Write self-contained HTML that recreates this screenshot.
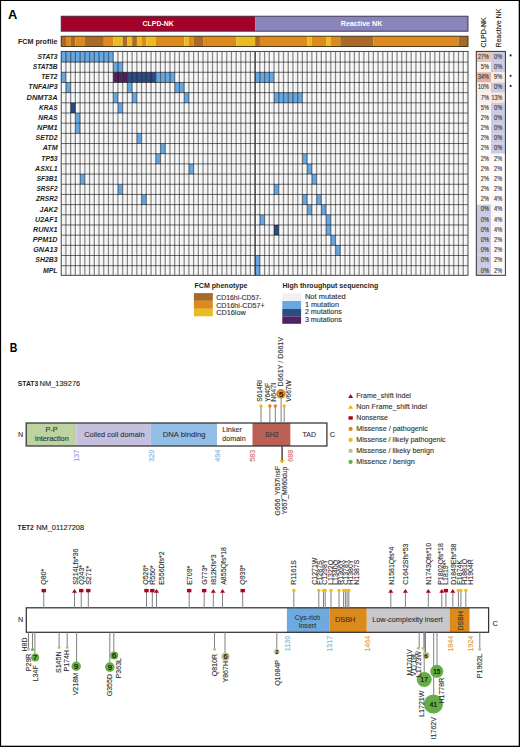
<!DOCTYPE html><html><head><meta charset="utf-8"><style>html,body{margin:0;padding:0;background:#fff;}svg{display:block;}</style></head><body>
<svg width="520" height="747" viewBox="0 0 520 747" font-family='"Liberation Sans", sans-serif'>
<rect x="0.00" y="0.00" width="520.00" height="747.00" fill="#ffffff"/>
<text x="8.10" y="18.60" font-size="13.4" fill="#000" font-weight="bold" textLength="9.30" lengthAdjust="spacingAndGlyphs">A</text>
<rect x="61.20" y="16.20" width="193.94" height="15.00" fill="#a3002a"/>
<rect x="255.14" y="16.20" width="212.86" height="15.00" fill="#8a84bc"/>
<rect x="61.20" y="16.20" width="406.80" height="15.00" fill="none" stroke="#3a3040" stroke-width="0.9"/>
<text x="158.17" y="26.00" font-size="6.8" fill="#fff" font-weight="bold" text-anchor="middle" textLength="31.20" lengthAdjust="spacingAndGlyphs">CLPD-NK</text>
<text x="361.57" y="26.00" font-size="6.8" fill="#fff" font-weight="bold" text-anchor="middle" textLength="41.50" lengthAdjust="spacingAndGlyphs">Reactive NK</text>
<rect x="61.20" y="36.20" width="4.78" height="10.30" fill="#a86a26"/>
<rect x="65.93" y="36.20" width="4.78" height="10.30" fill="#dd8a1a"/>
<rect x="70.66" y="36.20" width="4.78" height="10.30" fill="#a86a26"/>
<rect x="75.39" y="36.20" width="9.51" height="10.30" fill="#dd8a1a"/>
<rect x="84.85" y="36.20" width="18.97" height="10.30" fill="#a86a26"/>
<rect x="103.77" y="36.20" width="9.51" height="10.30" fill="#dd8a1a"/>
<rect x="113.23" y="36.20" width="9.51" height="10.30" fill="#e9bd1f"/>
<rect x="122.69" y="36.20" width="4.78" height="10.30" fill="#a86a26"/>
<rect x="127.42" y="36.20" width="4.78" height="10.30" fill="#e9bd1f"/>
<rect x="132.15" y="36.20" width="4.78" height="10.30" fill="#a86a26"/>
<rect x="136.88" y="36.20" width="4.78" height="10.30" fill="#e9bd1f"/>
<rect x="141.61" y="36.20" width="4.78" height="10.30" fill="#dd8a1a"/>
<rect x="146.34" y="36.20" width="9.51" height="10.30" fill="#e9bd1f"/>
<rect x="155.80" y="36.20" width="28.43" height="10.30" fill="#dd8a1a"/>
<rect x="184.19" y="36.20" width="4.78" height="10.30" fill="#e9bd1f"/>
<rect x="188.92" y="36.20" width="4.78" height="10.30" fill="#dd8a1a"/>
<rect x="193.65" y="36.20" width="9.51" height="10.30" fill="#a86a26"/>
<rect x="203.11" y="36.20" width="33.16" height="10.30" fill="#dd8a1a"/>
<rect x="236.22" y="36.20" width="18.97" height="10.30" fill="#e9bd1f"/>
<rect x="255.14" y="36.20" width="4.78" height="10.30" fill="#a86a26"/>
<rect x="259.87" y="36.20" width="47.35" height="10.30" fill="#dd8a1a"/>
<rect x="307.17" y="36.20" width="4.78" height="10.30" fill="#e9bd1f"/>
<rect x="311.90" y="36.20" width="14.24" height="10.30" fill="#dd8a1a"/>
<rect x="326.09" y="36.20" width="4.78" height="10.30" fill="#e9bd1f"/>
<rect x="330.82" y="36.20" width="9.51" height="10.30" fill="#dd8a1a"/>
<rect x="340.28" y="36.20" width="33.16" height="10.30" fill="#a86a26"/>
<rect x="373.40" y="36.20" width="85.19" height="10.30" fill="#dd8a1a"/>
<rect x="458.54" y="36.20" width="9.51" height="10.30" fill="#a86a26"/>
<rect x="61.20" y="36.20" width="406.80" height="10.30" fill="none" stroke="#3a2a10" stroke-width="0.9"/>
<text x="57.40" y="43.80" font-size="7.3" fill="#231f20" font-weight="bold" text-anchor="end" textLength="39.50" lengthAdjust="spacingAndGlyphs">FCM profile</text>
<rect x="61.20" y="51.40" width="406.80" height="223.90" fill="#f4f4f4"/>
<rect x="61.80" y="51.40" width="1.30" height="223.90" fill="#fdfdfd"/>
<rect x="66.53" y="51.40" width="1.30" height="223.90" fill="#fdfdfd"/>
<rect x="71.26" y="51.40" width="1.30" height="223.90" fill="#fdfdfd"/>
<rect x="75.99" y="51.40" width="1.30" height="223.90" fill="#fdfdfd"/>
<rect x="80.72" y="51.40" width="1.30" height="223.90" fill="#fdfdfd"/>
<rect x="85.45" y="51.40" width="1.30" height="223.90" fill="#fdfdfd"/>
<rect x="90.18" y="51.40" width="1.30" height="223.90" fill="#fdfdfd"/>
<rect x="94.91" y="51.40" width="1.30" height="223.90" fill="#fdfdfd"/>
<rect x="99.64" y="51.40" width="1.30" height="223.90" fill="#fdfdfd"/>
<rect x="104.37" y="51.40" width="1.30" height="223.90" fill="#fdfdfd"/>
<rect x="109.10" y="51.40" width="1.30" height="223.90" fill="#fdfdfd"/>
<rect x="113.83" y="51.40" width="1.30" height="223.90" fill="#fdfdfd"/>
<rect x="118.56" y="51.40" width="1.30" height="223.90" fill="#fdfdfd"/>
<rect x="123.29" y="51.40" width="1.30" height="223.90" fill="#fdfdfd"/>
<rect x="128.02" y="51.40" width="1.30" height="223.90" fill="#fdfdfd"/>
<rect x="132.75" y="51.40" width="1.30" height="223.90" fill="#fdfdfd"/>
<rect x="137.48" y="51.40" width="1.30" height="223.90" fill="#fdfdfd"/>
<rect x="142.21" y="51.40" width="1.30" height="223.90" fill="#fdfdfd"/>
<rect x="146.94" y="51.40" width="1.30" height="223.90" fill="#fdfdfd"/>
<rect x="151.67" y="51.40" width="1.30" height="223.90" fill="#fdfdfd"/>
<rect x="156.40" y="51.40" width="1.30" height="223.90" fill="#fdfdfd"/>
<rect x="161.13" y="51.40" width="1.30" height="223.90" fill="#fdfdfd"/>
<rect x="165.87" y="51.40" width="1.30" height="223.90" fill="#fdfdfd"/>
<rect x="170.60" y="51.40" width="1.30" height="223.90" fill="#fdfdfd"/>
<rect x="175.33" y="51.40" width="1.30" height="223.90" fill="#fdfdfd"/>
<rect x="180.06" y="51.40" width="1.30" height="223.90" fill="#fdfdfd"/>
<rect x="184.79" y="51.40" width="1.30" height="223.90" fill="#fdfdfd"/>
<rect x="189.52" y="51.40" width="1.30" height="223.90" fill="#fdfdfd"/>
<rect x="194.25" y="51.40" width="1.30" height="223.90" fill="#fdfdfd"/>
<rect x="198.98" y="51.40" width="1.30" height="223.90" fill="#fdfdfd"/>
<rect x="203.71" y="51.40" width="1.30" height="223.90" fill="#fdfdfd"/>
<rect x="208.44" y="51.40" width="1.30" height="223.90" fill="#fdfdfd"/>
<rect x="213.17" y="51.40" width="1.30" height="223.90" fill="#fdfdfd"/>
<rect x="217.90" y="51.40" width="1.30" height="223.90" fill="#fdfdfd"/>
<rect x="222.63" y="51.40" width="1.30" height="223.90" fill="#fdfdfd"/>
<rect x="227.36" y="51.40" width="1.30" height="223.90" fill="#fdfdfd"/>
<rect x="232.09" y="51.40" width="1.30" height="223.90" fill="#fdfdfd"/>
<rect x="236.82" y="51.40" width="1.30" height="223.90" fill="#fdfdfd"/>
<rect x="241.55" y="51.40" width="1.30" height="223.90" fill="#fdfdfd"/>
<rect x="246.28" y="51.40" width="1.30" height="223.90" fill="#fdfdfd"/>
<rect x="251.01" y="51.40" width="1.30" height="223.90" fill="#fdfdfd"/>
<rect x="255.74" y="51.40" width="1.30" height="223.90" fill="#fdfdfd"/>
<rect x="260.47" y="51.40" width="1.30" height="223.90" fill="#fdfdfd"/>
<rect x="265.20" y="51.40" width="1.30" height="223.90" fill="#fdfdfd"/>
<rect x="269.93" y="51.40" width="1.30" height="223.90" fill="#fdfdfd"/>
<rect x="274.66" y="51.40" width="1.30" height="223.90" fill="#fdfdfd"/>
<rect x="279.39" y="51.40" width="1.30" height="223.90" fill="#fdfdfd"/>
<rect x="284.12" y="51.40" width="1.30" height="223.90" fill="#fdfdfd"/>
<rect x="288.85" y="51.40" width="1.30" height="223.90" fill="#fdfdfd"/>
<rect x="293.58" y="51.40" width="1.30" height="223.90" fill="#fdfdfd"/>
<rect x="298.31" y="51.40" width="1.30" height="223.90" fill="#fdfdfd"/>
<rect x="303.04" y="51.40" width="1.30" height="223.90" fill="#fdfdfd"/>
<rect x="307.77" y="51.40" width="1.30" height="223.90" fill="#fdfdfd"/>
<rect x="312.50" y="51.40" width="1.30" height="223.90" fill="#fdfdfd"/>
<rect x="317.23" y="51.40" width="1.30" height="223.90" fill="#fdfdfd"/>
<rect x="321.96" y="51.40" width="1.30" height="223.90" fill="#fdfdfd"/>
<rect x="326.69" y="51.40" width="1.30" height="223.90" fill="#fdfdfd"/>
<rect x="331.42" y="51.40" width="1.30" height="223.90" fill="#fdfdfd"/>
<rect x="336.15" y="51.40" width="1.30" height="223.90" fill="#fdfdfd"/>
<rect x="340.88" y="51.40" width="1.30" height="223.90" fill="#fdfdfd"/>
<rect x="345.61" y="51.40" width="1.30" height="223.90" fill="#fdfdfd"/>
<rect x="350.34" y="51.40" width="1.30" height="223.90" fill="#fdfdfd"/>
<rect x="355.07" y="51.40" width="1.30" height="223.90" fill="#fdfdfd"/>
<rect x="359.80" y="51.40" width="1.30" height="223.90" fill="#fdfdfd"/>
<rect x="364.53" y="51.40" width="1.30" height="223.90" fill="#fdfdfd"/>
<rect x="369.27" y="51.40" width="1.30" height="223.90" fill="#fdfdfd"/>
<rect x="374.00" y="51.40" width="1.30" height="223.90" fill="#fdfdfd"/>
<rect x="378.73" y="51.40" width="1.30" height="223.90" fill="#fdfdfd"/>
<rect x="383.46" y="51.40" width="1.30" height="223.90" fill="#fdfdfd"/>
<rect x="388.19" y="51.40" width="1.30" height="223.90" fill="#fdfdfd"/>
<rect x="392.92" y="51.40" width="1.30" height="223.90" fill="#fdfdfd"/>
<rect x="397.65" y="51.40" width="1.30" height="223.90" fill="#fdfdfd"/>
<rect x="402.38" y="51.40" width="1.30" height="223.90" fill="#fdfdfd"/>
<rect x="407.11" y="51.40" width="1.30" height="223.90" fill="#fdfdfd"/>
<rect x="411.84" y="51.40" width="1.30" height="223.90" fill="#fdfdfd"/>
<rect x="416.57" y="51.40" width="1.30" height="223.90" fill="#fdfdfd"/>
<rect x="421.30" y="51.40" width="1.30" height="223.90" fill="#fdfdfd"/>
<rect x="426.03" y="51.40" width="1.30" height="223.90" fill="#fdfdfd"/>
<rect x="430.76" y="51.40" width="1.30" height="223.90" fill="#fdfdfd"/>
<rect x="435.49" y="51.40" width="1.30" height="223.90" fill="#fdfdfd"/>
<rect x="440.22" y="51.40" width="1.30" height="223.90" fill="#fdfdfd"/>
<rect x="444.95" y="51.40" width="1.30" height="223.90" fill="#fdfdfd"/>
<rect x="449.68" y="51.40" width="1.30" height="223.90" fill="#fdfdfd"/>
<rect x="454.41" y="51.40" width="1.30" height="223.90" fill="#fdfdfd"/>
<rect x="459.14" y="51.40" width="1.30" height="223.90" fill="#fdfdfd"/>
<rect x="463.87" y="51.40" width="1.30" height="223.90" fill="#fdfdfd"/>
<rect x="61.20" y="51.40" width="4.73" height="10.70" fill="#66a8e2"/>
<rect x="65.93" y="51.40" width="4.73" height="10.70" fill="#66a8e2"/>
<rect x="70.66" y="51.40" width="4.73" height="10.70" fill="#66a8e2"/>
<rect x="75.39" y="51.40" width="4.73" height="10.70" fill="#66a8e2"/>
<rect x="80.12" y="51.40" width="4.73" height="10.70" fill="#66a8e2"/>
<rect x="84.85" y="51.40" width="4.73" height="10.70" fill="#66a8e2"/>
<rect x="89.58" y="51.40" width="4.73" height="10.70" fill="#66a8e2"/>
<rect x="94.31" y="51.40" width="4.73" height="10.70" fill="#66a8e2"/>
<rect x="99.04" y="51.40" width="4.73" height="10.70" fill="#66a8e2"/>
<rect x="103.77" y="51.40" width="4.73" height="10.70" fill="#66a8e2"/>
<rect x="108.50" y="51.40" width="4.73" height="10.70" fill="#66a8e2"/>
<rect x="113.23" y="62.10" width="4.73" height="10.18" fill="#66a8e2"/>
<rect x="117.96" y="62.10" width="4.73" height="10.18" fill="#66a8e2"/>
<rect x="61.20" y="72.28" width="4.73" height="10.18" fill="#66a8e2"/>
<rect x="113.23" y="72.28" width="4.73" height="10.18" fill="#502262"/>
<rect x="117.96" y="72.28" width="4.73" height="10.18" fill="#502262"/>
<rect x="122.69" y="72.28" width="4.73" height="10.18" fill="#502262"/>
<rect x="127.42" y="72.28" width="4.73" height="10.18" fill="#2c4c86"/>
<rect x="132.15" y="72.28" width="4.73" height="10.18" fill="#2c4c86"/>
<rect x="136.88" y="72.28" width="4.73" height="10.18" fill="#2c4c86"/>
<rect x="141.61" y="72.28" width="4.73" height="10.18" fill="#2c4c86"/>
<rect x="146.34" y="72.28" width="4.73" height="10.18" fill="#2c4c86"/>
<rect x="151.07" y="72.28" width="4.73" height="10.18" fill="#2c4c86"/>
<rect x="155.80" y="72.28" width="4.73" height="10.18" fill="#66a8e2"/>
<rect x="160.53" y="72.28" width="4.73" height="10.18" fill="#66a8e2"/>
<rect x="165.27" y="72.28" width="4.73" height="10.18" fill="#66a8e2"/>
<rect x="170.00" y="72.28" width="4.73" height="10.18" fill="#66a8e2"/>
<rect x="255.14" y="72.28" width="4.73" height="10.18" fill="#66a8e2"/>
<rect x="259.87" y="72.28" width="4.73" height="10.18" fill="#66a8e2"/>
<rect x="264.60" y="72.28" width="4.73" height="10.18" fill="#66a8e2"/>
<rect x="269.33" y="72.28" width="4.73" height="10.18" fill="#66a8e2"/>
<rect x="65.93" y="82.46" width="4.73" height="10.18" fill="#66a8e2"/>
<rect x="127.42" y="82.46" width="4.73" height="10.18" fill="#66a8e2"/>
<rect x="174.73" y="82.46" width="4.73" height="10.18" fill="#66a8e2"/>
<rect x="179.46" y="82.46" width="4.73" height="10.18" fill="#66a8e2"/>
<rect x="113.23" y="92.64" width="4.73" height="10.18" fill="#66a8e2"/>
<rect x="132.15" y="92.64" width="4.73" height="10.18" fill="#66a8e2"/>
<rect x="184.19" y="92.64" width="4.73" height="10.18" fill="#66a8e2"/>
<rect x="274.06" y="92.64" width="4.73" height="10.18" fill="#66a8e2"/>
<rect x="278.79" y="92.64" width="4.73" height="10.18" fill="#66a8e2"/>
<rect x="283.52" y="92.64" width="4.73" height="10.18" fill="#66a8e2"/>
<rect x="288.25" y="92.64" width="4.73" height="10.18" fill="#66a8e2"/>
<rect x="292.98" y="92.64" width="4.73" height="10.18" fill="#66a8e2"/>
<rect x="297.71" y="92.64" width="4.73" height="10.18" fill="#66a8e2"/>
<rect x="70.66" y="102.82" width="4.73" height="10.18" fill="#2c4c86"/>
<rect x="117.96" y="102.82" width="4.73" height="10.18" fill="#66a8e2"/>
<rect x="75.39" y="113.00" width="4.73" height="10.18" fill="#66a8e2"/>
<rect x="75.39" y="123.18" width="4.73" height="10.18" fill="#66a8e2"/>
<rect x="136.88" y="133.36" width="4.73" height="10.18" fill="#66a8e2"/>
<rect x="160.53" y="143.54" width="4.73" height="10.18" fill="#66a8e2"/>
<rect x="155.80" y="153.72" width="4.73" height="10.18" fill="#66a8e2"/>
<rect x="302.44" y="153.72" width="4.73" height="10.18" fill="#66a8e2"/>
<rect x="188.92" y="163.90" width="4.73" height="10.18" fill="#66a8e2"/>
<rect x="307.17" y="163.90" width="4.73" height="10.18" fill="#66a8e2"/>
<rect x="80.12" y="174.08" width="4.73" height="10.18" fill="#66a8e2"/>
<rect x="311.90" y="174.08" width="4.73" height="10.18" fill="#66a8e2"/>
<rect x="117.96" y="184.26" width="4.73" height="10.18" fill="#66a8e2"/>
<rect x="274.06" y="184.26" width="4.73" height="10.18" fill="#66a8e2"/>
<rect x="141.61" y="194.44" width="4.73" height="10.18" fill="#66a8e2"/>
<rect x="302.44" y="194.44" width="4.73" height="10.18" fill="#66a8e2"/>
<rect x="316.63" y="194.44" width="4.73" height="10.18" fill="#66a8e2"/>
<rect x="307.17" y="204.62" width="4.73" height="10.18" fill="#66a8e2"/>
<rect x="321.36" y="204.62" width="4.73" height="10.18" fill="#66a8e2"/>
<rect x="259.87" y="214.80" width="4.73" height="10.18" fill="#66a8e2"/>
<rect x="326.09" y="214.80" width="4.73" height="10.18" fill="#66a8e2"/>
<rect x="274.06" y="224.98" width="4.73" height="10.18" fill="#2c4c86"/>
<rect x="326.09" y="224.98" width="4.73" height="10.18" fill="#66a8e2"/>
<rect x="330.82" y="235.16" width="4.73" height="10.18" fill="#66a8e2"/>
<rect x="335.55" y="245.34" width="4.73" height="10.18" fill="#66a8e2"/>
<rect x="255.14" y="255.52" width="4.73" height="10.18" fill="#66a8e2"/>
<rect x="255.14" y="265.70" width="4.73" height="9.60" fill="#66a8e2"/>
<path d="M65.93 51.40V275.30 M70.66 51.40V275.30 M75.39 51.40V275.30 M80.12 51.40V275.30 M84.85 51.40V275.30 M89.58 51.40V275.30 M94.31 51.40V275.30 M99.04 51.40V275.30 M103.77 51.40V275.30 M108.50 51.40V275.30 M113.23 51.40V275.30 M117.96 51.40V275.30 M122.69 51.40V275.30 M127.42 51.40V275.30 M132.15 51.40V275.30 M136.88 51.40V275.30 M141.61 51.40V275.30 M146.34 51.40V275.30 M151.07 51.40V275.30 M155.80 51.40V275.30 M160.53 51.40V275.30 M165.27 51.40V275.30 M170.00 51.40V275.30 M174.73 51.40V275.30 M179.46 51.40V275.30 M184.19 51.40V275.30 M188.92 51.40V275.30 M193.65 51.40V275.30 M198.38 51.40V275.30 M203.11 51.40V275.30 M207.84 51.40V275.30 M212.57 51.40V275.30 M217.30 51.40V275.30 M222.03 51.40V275.30 M226.76 51.40V275.30 M231.49 51.40V275.30 M236.22 51.40V275.30 M240.95 51.40V275.30 M245.68 51.40V275.30 M250.41 51.40V275.30 M255.14 51.40V275.30 M259.87 51.40V275.30 M264.60 51.40V275.30 M269.33 51.40V275.30 M274.06 51.40V275.30 M278.79 51.40V275.30 M283.52 51.40V275.30 M288.25 51.40V275.30 M292.98 51.40V275.30 M297.71 51.40V275.30 M302.44 51.40V275.30 M307.17 51.40V275.30 M311.90 51.40V275.30 M316.63 51.40V275.30 M321.36 51.40V275.30 M326.09 51.40V275.30 M330.82 51.40V275.30 M335.55 51.40V275.30 M340.28 51.40V275.30 M345.01 51.40V275.30 M349.74 51.40V275.30 M354.47 51.40V275.30 M359.20 51.40V275.30 M363.93 51.40V275.30 M368.67 51.40V275.30 M373.40 51.40V275.30 M378.13 51.40V275.30 M382.86 51.40V275.30 M387.59 51.40V275.30 M392.32 51.40V275.30 M397.05 51.40V275.30 M401.78 51.40V275.30 M406.51 51.40V275.30 M411.24 51.40V275.30 M415.97 51.40V275.30 M420.70 51.40V275.30 M425.43 51.40V275.30 M430.16 51.40V275.30 M434.89 51.40V275.30 M439.62 51.40V275.30 M444.35 51.40V275.30 M449.08 51.40V275.30 M453.81 51.40V275.30 M458.54 51.40V275.30 M463.27 51.40V275.30" stroke="#000" stroke-opacity="0.45" stroke-width="1.25" fill="none"/>
<path d="M61.20 62.10H468.00 M61.20 72.28H468.00 M61.20 82.46H468.00 M61.20 92.64H468.00 M61.20 102.82H468.00 M61.20 113.00H468.00 M61.20 123.18H468.00 M61.20 133.36H468.00 M61.20 143.54H468.00 M61.20 153.72H468.00 M61.20 163.90H468.00 M61.20 174.08H468.00 M61.20 184.26H468.00 M61.20 194.44H468.00 M61.20 204.62H468.00 M61.20 214.80H468.00 M61.20 224.98H468.00 M61.20 235.16H468.00 M61.20 245.34H468.00 M61.20 255.52H468.00 M61.20 265.70H468.00" stroke="#000" stroke-opacity="0.58" stroke-width="1.0" fill="none"/>
<line x1="255.14" y1="51.40" x2="255.14" y2="275.30" stroke="#333" stroke-width="1.1"/>
<rect x="61.20" y="51.40" width="406.80" height="223.90" fill="none" stroke="#333" stroke-width="0.9"/>
<text x="57.60" y="58.84" font-size="6.7" fill="#231f20" font-weight="bold" font-style="italic" text-anchor="end" textLength="20.20" lengthAdjust="spacingAndGlyphs">STAT3</text>
<text x="57.60" y="69.02" font-size="6.7" fill="#231f20" font-weight="bold" font-style="italic" text-anchor="end" textLength="24.90" lengthAdjust="spacingAndGlyphs">STAT5B</text>
<text x="57.60" y="79.19" font-size="6.7" fill="#231f20" font-weight="bold" font-style="italic" text-anchor="end" textLength="16.40" lengthAdjust="spacingAndGlyphs">TET2</text>
<text x="57.60" y="89.37" font-size="6.7" fill="#231f20" font-weight="bold" font-style="italic" text-anchor="end" textLength="29.30" lengthAdjust="spacingAndGlyphs">TNFAIP3</text>
<text x="57.60" y="99.55" font-size="6.7" fill="#231f20" font-weight="bold" font-style="italic" text-anchor="end" textLength="31.10" lengthAdjust="spacingAndGlyphs">DNMT3A</text>
<text x="57.60" y="109.72" font-size="6.7" fill="#231f20" font-weight="bold" font-style="italic" text-anchor="end" textLength="18.60" lengthAdjust="spacingAndGlyphs">KRAS</text>
<text x="57.60" y="119.90" font-size="6.7" fill="#231f20" font-weight="bold" font-style="italic" text-anchor="end" textLength="19.30" lengthAdjust="spacingAndGlyphs">NRAS</text>
<text x="57.60" y="130.08" font-size="6.7" fill="#231f20" font-weight="bold" font-style="italic" text-anchor="end" textLength="20.50" lengthAdjust="spacingAndGlyphs">NPM1</text>
<text x="57.60" y="140.26" font-size="6.7" fill="#231f20" font-weight="bold" font-style="italic" text-anchor="end" textLength="22.00" lengthAdjust="spacingAndGlyphs">SETD2</text>
<text x="57.60" y="150.43" font-size="6.7" fill="#231f20" font-weight="bold" font-style="italic" text-anchor="end" textLength="14.90" lengthAdjust="spacingAndGlyphs">ATM</text>
<text x="57.60" y="160.61" font-size="6.7" fill="#231f20" font-weight="bold" font-style="italic" text-anchor="end" textLength="16.40" lengthAdjust="spacingAndGlyphs">TP53</text>
<text x="57.60" y="170.79" font-size="6.7" fill="#231f20" font-weight="bold" font-style="italic" text-anchor="end" textLength="22.50" lengthAdjust="spacingAndGlyphs">ASXL1</text>
<text x="57.60" y="180.97" font-size="6.7" fill="#231f20" font-weight="bold" font-style="italic" text-anchor="end" textLength="21.20" lengthAdjust="spacingAndGlyphs">SF3B1</text>
<text x="57.60" y="191.14" font-size="6.7" fill="#231f20" font-weight="bold" font-style="italic" text-anchor="end" textLength="21.10" lengthAdjust="spacingAndGlyphs">SRSF2</text>
<text x="57.60" y="201.32" font-size="6.7" fill="#231f20" font-weight="bold" font-style="italic" text-anchor="end" textLength="21.60" lengthAdjust="spacingAndGlyphs">ZRSR2</text>
<text x="57.60" y="211.50" font-size="6.7" fill="#231f20" font-weight="bold" font-style="italic" text-anchor="end" textLength="18.10" lengthAdjust="spacingAndGlyphs">JAK2</text>
<text x="57.60" y="221.68" font-size="6.7" fill="#231f20" font-weight="bold" font-style="italic" text-anchor="end" textLength="22.60" lengthAdjust="spacingAndGlyphs">U2AF1</text>
<text x="57.60" y="231.85" font-size="6.7" fill="#231f20" font-weight="bold" font-style="italic" text-anchor="end" textLength="24.60" lengthAdjust="spacingAndGlyphs">RUNX1</text>
<text x="57.60" y="242.03" font-size="6.7" fill="#231f20" font-weight="bold" font-style="italic" text-anchor="end" textLength="24.90" lengthAdjust="spacingAndGlyphs">PPM1D</text>
<text x="57.60" y="252.21" font-size="6.7" fill="#231f20" font-weight="bold" font-style="italic" text-anchor="end" textLength="24.40" lengthAdjust="spacingAndGlyphs">GNA13</text>
<text x="57.60" y="262.38" font-size="6.7" fill="#231f20" font-weight="bold" font-style="italic" text-anchor="end" textLength="22.30" lengthAdjust="spacingAndGlyphs">SH2B3</text>
<text x="57.60" y="272.56" font-size="6.7" fill="#231f20" font-weight="bold" font-style="italic" text-anchor="end" textLength="14.60" lengthAdjust="spacingAndGlyphs">MPL</text>
<rect x="476.30" y="51.40" width="14.70" height="10.75" fill="#eac6bb"/>
<rect x="491.00" y="51.40" width="14.40" height="10.75" fill="#c8cbe3"/>
<text x="488.90" y="58.79" font-size="6.4" fill="#333" stroke="#333" stroke-width="0.12" text-anchor="end" textLength="10.80" lengthAdjust="spacingAndGlyphs">27%</text>
<text x="502.20" y="58.79" font-size="6.4" fill="#333" stroke="#333" stroke-width="0.12" text-anchor="end" textLength="8.10" lengthAdjust="spacingAndGlyphs">0%</text>
<rect x="476.30" y="62.10" width="14.70" height="10.23" fill="#faf3f1"/>
<rect x="491.00" y="62.10" width="14.40" height="10.23" fill="#c8cbe3"/>
<text x="488.90" y="68.97" font-size="6.4" fill="#333" stroke="#333" stroke-width="0.12" text-anchor="end" textLength="8.10" lengthAdjust="spacingAndGlyphs">5%</text>
<text x="502.20" y="68.97" font-size="6.4" fill="#333" stroke="#333" stroke-width="0.12" text-anchor="end" textLength="8.10" lengthAdjust="spacingAndGlyphs">0%</text>
<rect x="476.30" y="72.28" width="14.70" height="10.23" fill="#e3b2a6"/>
<rect x="491.00" y="72.28" width="14.40" height="10.23" fill="#f8ebe7"/>
<text x="488.90" y="79.14" font-size="6.4" fill="#333" stroke="#333" stroke-width="0.12" text-anchor="end" textLength="10.80" lengthAdjust="spacingAndGlyphs">34%</text>
<text x="502.20" y="79.14" font-size="6.4" fill="#333" stroke="#333" stroke-width="0.12" text-anchor="end" textLength="8.10" lengthAdjust="spacingAndGlyphs">9%</text>
<rect x="476.30" y="82.46" width="14.70" height="10.23" fill="#f8ebe7"/>
<rect x="491.00" y="82.46" width="14.40" height="10.23" fill="#c8cbe3"/>
<text x="488.90" y="89.32" font-size="6.4" fill="#333" stroke="#333" stroke-width="0.12" text-anchor="end" textLength="10.80" lengthAdjust="spacingAndGlyphs">10%</text>
<text x="502.20" y="89.32" font-size="6.4" fill="#333" stroke="#333" stroke-width="0.12" text-anchor="end" textLength="8.10" lengthAdjust="spacingAndGlyphs">0%</text>
<rect x="476.30" y="92.64" width="14.70" height="10.23" fill="#f9f0ed"/>
<rect x="491.00" y="92.64" width="14.40" height="10.23" fill="#f6e7e1"/>
<text x="488.90" y="99.50" font-size="6.4" fill="#333" stroke="#333" stroke-width="0.12" text-anchor="end" textLength="8.10" lengthAdjust="spacingAndGlyphs">7%</text>
<text x="502.20" y="99.50" font-size="6.4" fill="#333" stroke="#333" stroke-width="0.12" text-anchor="end" textLength="10.80" lengthAdjust="spacingAndGlyphs">13%</text>
<rect x="476.30" y="102.82" width="14.70" height="10.23" fill="#faf3f1"/>
<rect x="491.00" y="102.82" width="14.40" height="10.23" fill="#c8cbe3"/>
<text x="488.90" y="109.67" font-size="6.4" fill="#333" stroke="#333" stroke-width="0.12" text-anchor="end" textLength="8.10" lengthAdjust="spacingAndGlyphs">5%</text>
<text x="502.20" y="109.67" font-size="6.4" fill="#333" stroke="#333" stroke-width="0.12" text-anchor="end" textLength="8.10" lengthAdjust="spacingAndGlyphs">0%</text>
<rect x="476.30" y="113.00" width="14.70" height="10.23" fill="#fefcfb"/>
<rect x="491.00" y="113.00" width="14.40" height="10.23" fill="#c8cbe3"/>
<text x="488.90" y="119.85" font-size="6.4" fill="#333" stroke="#333" stroke-width="0.12" text-anchor="end" textLength="8.10" lengthAdjust="spacingAndGlyphs">2%</text>
<text x="502.20" y="119.85" font-size="6.4" fill="#333" stroke="#333" stroke-width="0.12" text-anchor="end" textLength="8.10" lengthAdjust="spacingAndGlyphs">0%</text>
<rect x="476.30" y="123.18" width="14.70" height="10.23" fill="#fefcfb"/>
<rect x="491.00" y="123.18" width="14.40" height="10.23" fill="#c8cbe3"/>
<text x="488.90" y="130.03" font-size="6.4" fill="#333" stroke="#333" stroke-width="0.12" text-anchor="end" textLength="8.10" lengthAdjust="spacingAndGlyphs">2%</text>
<text x="502.20" y="130.03" font-size="6.4" fill="#333" stroke="#333" stroke-width="0.12" text-anchor="end" textLength="8.10" lengthAdjust="spacingAndGlyphs">0%</text>
<rect x="476.30" y="133.36" width="14.70" height="10.23" fill="#fefcfb"/>
<rect x="491.00" y="133.36" width="14.40" height="10.23" fill="#c8cbe3"/>
<text x="488.90" y="140.21" font-size="6.4" fill="#333" stroke="#333" stroke-width="0.12" text-anchor="end" textLength="8.10" lengthAdjust="spacingAndGlyphs">2%</text>
<text x="502.20" y="140.21" font-size="6.4" fill="#333" stroke="#333" stroke-width="0.12" text-anchor="end" textLength="8.10" lengthAdjust="spacingAndGlyphs">0%</text>
<rect x="476.30" y="143.54" width="14.70" height="10.23" fill="#fefcfb"/>
<rect x="491.00" y="143.54" width="14.40" height="10.23" fill="#c8cbe3"/>
<text x="488.90" y="150.38" font-size="6.4" fill="#333" stroke="#333" stroke-width="0.12" text-anchor="end" textLength="8.10" lengthAdjust="spacingAndGlyphs">2%</text>
<text x="502.20" y="150.38" font-size="6.4" fill="#333" stroke="#333" stroke-width="0.12" text-anchor="end" textLength="8.10" lengthAdjust="spacingAndGlyphs">0%</text>
<rect x="476.30" y="153.72" width="14.70" height="10.23" fill="#fefcfb"/>
<rect x="491.00" y="153.72" width="14.40" height="10.23" fill="#fefcfb"/>
<text x="488.90" y="160.56" font-size="6.4" fill="#333" stroke="#333" stroke-width="0.12" text-anchor="end" textLength="8.10" lengthAdjust="spacingAndGlyphs">2%</text>
<text x="502.20" y="160.56" font-size="6.4" fill="#333" stroke="#333" stroke-width="0.12" text-anchor="end" textLength="8.10" lengthAdjust="spacingAndGlyphs">2%</text>
<rect x="476.30" y="163.90" width="14.70" height="10.23" fill="#fefcfb"/>
<rect x="491.00" y="163.90" width="14.40" height="10.23" fill="#fefcfb"/>
<text x="488.90" y="170.74" font-size="6.4" fill="#333" stroke="#333" stroke-width="0.12" text-anchor="end" textLength="8.10" lengthAdjust="spacingAndGlyphs">2%</text>
<text x="502.20" y="170.74" font-size="6.4" fill="#333" stroke="#333" stroke-width="0.12" text-anchor="end" textLength="8.10" lengthAdjust="spacingAndGlyphs">2%</text>
<rect x="476.30" y="174.08" width="14.70" height="10.23" fill="#fefcfb"/>
<rect x="491.00" y="174.08" width="14.40" height="10.23" fill="#fefcfb"/>
<text x="488.90" y="180.92" font-size="6.4" fill="#333" stroke="#333" stroke-width="0.12" text-anchor="end" textLength="8.10" lengthAdjust="spacingAndGlyphs">2%</text>
<text x="502.20" y="180.92" font-size="6.4" fill="#333" stroke="#333" stroke-width="0.12" text-anchor="end" textLength="8.10" lengthAdjust="spacingAndGlyphs">2%</text>
<rect x="476.30" y="184.26" width="14.70" height="10.23" fill="#fefcfb"/>
<rect x="491.00" y="184.26" width="14.40" height="10.23" fill="#fefcfb"/>
<text x="488.90" y="191.09" font-size="6.4" fill="#333" stroke="#333" stroke-width="0.12" text-anchor="end" textLength="8.10" lengthAdjust="spacingAndGlyphs">2%</text>
<text x="502.20" y="191.09" font-size="6.4" fill="#333" stroke="#333" stroke-width="0.12" text-anchor="end" textLength="8.10" lengthAdjust="spacingAndGlyphs">2%</text>
<rect x="476.30" y="194.44" width="14.70" height="10.23" fill="#fefcfb"/>
<rect x="491.00" y="194.44" width="14.40" height="10.23" fill="#fcf7f5"/>
<text x="488.90" y="201.27" font-size="6.4" fill="#333" stroke="#333" stroke-width="0.12" text-anchor="end" textLength="8.10" lengthAdjust="spacingAndGlyphs">2%</text>
<text x="502.20" y="201.27" font-size="6.4" fill="#333" stroke="#333" stroke-width="0.12" text-anchor="end" textLength="8.10" lengthAdjust="spacingAndGlyphs">4%</text>
<rect x="476.30" y="204.62" width="14.70" height="10.23" fill="#c8cbe3"/>
<rect x="491.00" y="204.62" width="14.40" height="10.23" fill="#fcf7f5"/>
<text x="488.90" y="211.45" font-size="6.4" fill="#333" stroke="#333" stroke-width="0.12" text-anchor="end" textLength="8.10" lengthAdjust="spacingAndGlyphs">0%</text>
<text x="502.20" y="211.45" font-size="6.4" fill="#333" stroke="#333" stroke-width="0.12" text-anchor="end" textLength="8.10" lengthAdjust="spacingAndGlyphs">4%</text>
<rect x="476.30" y="214.80" width="14.70" height="10.23" fill="#c8cbe3"/>
<rect x="491.00" y="214.80" width="14.40" height="10.23" fill="#fcf7f5"/>
<text x="488.90" y="221.63" font-size="6.4" fill="#333" stroke="#333" stroke-width="0.12" text-anchor="end" textLength="8.10" lengthAdjust="spacingAndGlyphs">0%</text>
<text x="502.20" y="221.63" font-size="6.4" fill="#333" stroke="#333" stroke-width="0.12" text-anchor="end" textLength="8.10" lengthAdjust="spacingAndGlyphs">4%</text>
<rect x="476.30" y="224.98" width="14.70" height="10.23" fill="#c8cbe3"/>
<rect x="491.00" y="224.98" width="14.40" height="10.23" fill="#fcf7f5"/>
<text x="488.90" y="231.80" font-size="6.4" fill="#333" stroke="#333" stroke-width="0.12" text-anchor="end" textLength="8.10" lengthAdjust="spacingAndGlyphs">0%</text>
<text x="502.20" y="231.80" font-size="6.4" fill="#333" stroke="#333" stroke-width="0.12" text-anchor="end" textLength="8.10" lengthAdjust="spacingAndGlyphs">4%</text>
<rect x="476.30" y="235.16" width="14.70" height="10.23" fill="#c8cbe3"/>
<rect x="491.00" y="235.16" width="14.40" height="10.23" fill="#fefcfb"/>
<text x="488.90" y="241.98" font-size="6.4" fill="#333" stroke="#333" stroke-width="0.12" text-anchor="end" textLength="8.10" lengthAdjust="spacingAndGlyphs">0%</text>
<text x="502.20" y="241.98" font-size="6.4" fill="#333" stroke="#333" stroke-width="0.12" text-anchor="end" textLength="8.10" lengthAdjust="spacingAndGlyphs">2%</text>
<rect x="476.30" y="245.34" width="14.70" height="10.23" fill="#c8cbe3"/>
<rect x="491.00" y="245.34" width="14.40" height="10.23" fill="#fefcfb"/>
<text x="488.90" y="252.16" font-size="6.4" fill="#333" stroke="#333" stroke-width="0.12" text-anchor="end" textLength="8.10" lengthAdjust="spacingAndGlyphs">0%</text>
<text x="502.20" y="252.16" font-size="6.4" fill="#333" stroke="#333" stroke-width="0.12" text-anchor="end" textLength="8.10" lengthAdjust="spacingAndGlyphs">2%</text>
<rect x="476.30" y="255.52" width="14.70" height="10.23" fill="#c8cbe3"/>
<rect x="491.00" y="255.52" width="14.40" height="10.23" fill="#fefcfb"/>
<text x="488.90" y="262.33" font-size="6.4" fill="#333" stroke="#333" stroke-width="0.12" text-anchor="end" textLength="8.10" lengthAdjust="spacingAndGlyphs">0%</text>
<text x="502.20" y="262.33" font-size="6.4" fill="#333" stroke="#333" stroke-width="0.12" text-anchor="end" textLength="8.10" lengthAdjust="spacingAndGlyphs">2%</text>
<rect x="476.30" y="265.70" width="14.70" height="9.65" fill="#c8cbe3"/>
<rect x="491.00" y="265.70" width="14.40" height="9.65" fill="#fefcfb"/>
<text x="488.90" y="272.51" font-size="6.4" fill="#333" stroke="#333" stroke-width="0.12" text-anchor="end" textLength="8.10" lengthAdjust="spacingAndGlyphs">0%</text>
<text x="502.20" y="272.51" font-size="6.4" fill="#333" stroke="#333" stroke-width="0.12" text-anchor="end" textLength="8.10" lengthAdjust="spacingAndGlyphs">2%</text>
<rect x="476.30" y="51.40" width="29.10" height="223.90" fill="none" stroke="#333" stroke-width="1.0"/>
<circle cx="510.60" cy="55.39" r="1.05" fill="#222"/>
<circle cx="510.60" cy="75.74" r="1.05" fill="#222"/>
<circle cx="510.60" cy="85.92" r="1.05" fill="#222"/>
<text transform="translate(485.90,47.60) rotate(-90)" font-size="6.7" fill="#231f20" stroke="#231f20" stroke-width="0.12" textLength="30.30" lengthAdjust="spacingAndGlyphs">CLPD-NK</text>
<text transform="translate(500.80,47.60) rotate(-90)" font-size="6.7" fill="#231f20" stroke="#231f20" stroke-width="0.12" textLength="38.90" lengthAdjust="spacingAndGlyphs">Reactive NK</text>
<text x="194.50" y="287.50" font-size="6.4" fill="#231f20" font-weight="bold" textLength="53.00" lengthAdjust="spacingAndGlyphs">FCM phenotype</text>
<rect x="193.90" y="293.10" width="18.90" height="7.75" fill="#a86a26"/>
<rect x="193.90" y="300.80" width="18.90" height="8.00" fill="#dd8a1a"/>
<rect x="193.90" y="308.80" width="18.90" height="7.50" fill="#e9bd1f"/>
<text x="216.20" y="299.50" font-size="6.9" fill="#333" stroke="#333" stroke-width="0.12" textLength="45.20" lengthAdjust="spacingAndGlyphs">CD16hi-CD57-</text>
<text x="216.20" y="307.50" font-size="6.9" fill="#333" stroke="#333" stroke-width="0.12" textLength="48.40" lengthAdjust="spacingAndGlyphs">CD16hi-CD57+</text>
<text x="216.20" y="315.20" font-size="6.9" fill="#333" stroke="#333" stroke-width="0.12" textLength="29.60" lengthAdjust="spacingAndGlyphs">CD16low</text>
<text x="282.50" y="288.10" font-size="6.4" fill="#231f20" font-weight="bold" textLength="95.80" lengthAdjust="spacingAndGlyphs">High throughput sequencing</text>
<rect x="282.30" y="293.40" width="18.80" height="7.60" fill="#f1f1f3"/>
<rect x="282.30" y="301.00" width="18.80" height="7.80" fill="#66a8e2"/>
<rect x="282.30" y="308.80" width="18.80" height="7.60" fill="#2c4c86"/>
<rect x="282.30" y="316.40" width="18.80" height="7.40" fill="#502262"/>
<text x="304.90" y="299.20" font-size="6.9" fill="#333" stroke="#333" stroke-width="0.12" textLength="40.90" lengthAdjust="spacingAndGlyphs">Not mutated</text>
<text x="304.90" y="306.70" font-size="6.9" fill="#333" stroke="#333" stroke-width="0.12" textLength="34.10" lengthAdjust="spacingAndGlyphs">1 mutation</text>
<text x="304.90" y="314.30" font-size="6.9" fill="#333" stroke="#333" stroke-width="0.12" textLength="37.00" lengthAdjust="spacingAndGlyphs">2 mutations</text>
<text x="304.90" y="321.80" font-size="6.9" fill="#333" stroke="#333" stroke-width="0.12" textLength="37.00" lengthAdjust="spacingAndGlyphs">3 mutations</text>
<text x="9.80" y="352.40" font-size="13.2" fill="#000" font-weight="bold" textLength="7.60" lengthAdjust="spacingAndGlyphs">B</text>
<text x="17.80" y="385.50" font-size="7.0" fill="#231f20" font-weight="bold" textLength="20.40" lengthAdjust="spacingAndGlyphs">STAT3</text>
<text x="39.60" y="385.50" font-size="7.0" fill="#231f20" stroke="#231f20" stroke-width="0.12" textLength="40.60" lengthAdjust="spacingAndGlyphs">NM_139276</text>
<rect x="26.20" y="423.00" width="50.20" height="23.00" fill="#bdd4a0"/>
<rect x="76.40" y="423.00" width="74.40" height="23.00" fill="#c6c0de"/>
<rect x="150.80" y="423.00" width="66.30" height="23.00" fill="#93bfe6"/>
<rect x="217.10" y="423.00" width="35.40" height="23.00" fill="#ffffff"/>
<rect x="252.50" y="423.00" width="38.10" height="23.00" fill="#bb5f57"/>
<rect x="290.60" y="423.00" width="36.30" height="23.00" fill="#ffffff"/>
<rect x="26.20" y="423.00" width="300.70" height="23.00" fill="none" stroke="#333" stroke-width="1.25"/>
<text x="18.00" y="437.00" font-size="7.2" fill="#333" stroke="#333" stroke-width="0.12">N</text>
<text x="329.80" y="436.80" font-size="7.4" fill="#333" stroke="#333" stroke-width="0.12">C</text>
<text x="51.60" y="432.20" font-size="7.88" fill="#333" stroke="#333" stroke-width="0.12" text-anchor="middle" textLength="12.17" lengthAdjust="spacingAndGlyphs">P-P</text>
<text x="51.90" y="440.60" font-size="7.88" fill="#333" stroke="#333" stroke-width="0.12" text-anchor="middle" textLength="33.70" lengthAdjust="spacingAndGlyphs">interaction</text>
<text x="114.40" y="436.80" font-size="7.88" fill="#333" stroke="#333" stroke-width="0.12" text-anchor="middle" textLength="60.20" lengthAdjust="spacingAndGlyphs">Coiled coil domain</text>
<text x="184.10" y="436.80" font-size="7.88" fill="#333" stroke="#333" stroke-width="0.12" text-anchor="middle" textLength="42.70" lengthAdjust="spacingAndGlyphs">DNA binding</text>
<text x="232.10" y="432.20" font-size="7.88" fill="#333" stroke="#333" stroke-width="0.12" text-anchor="middle" textLength="19.88" lengthAdjust="spacingAndGlyphs">Linker</text>
<text x="234.00" y="440.60" font-size="7.88" fill="#333" stroke="#333" stroke-width="0.12" text-anchor="middle" textLength="23.30" lengthAdjust="spacingAndGlyphs">domain</text>
<text x="271.80" y="436.80" font-size="7.88" fill="#333" stroke="#333" stroke-width="0.12" text-anchor="middle" textLength="13.50" lengthAdjust="spacingAndGlyphs">SH2</text>
<text x="309.30" y="436.80" font-size="7.88" fill="#333" stroke="#333" stroke-width="0.12" text-anchor="middle" textLength="13.50" lengthAdjust="spacingAndGlyphs">TAD</text>
<text transform="translate(79.20,449.80) rotate(-90)" font-size="7.2" fill="#9d97cf" stroke="#9d97cf" stroke-width="0.12" text-anchor="end">137</text>
<text transform="translate(153.60,449.80) rotate(-90)" font-size="7.2" fill="#7fb2e2" stroke="#7fb2e2" stroke-width="0.12" text-anchor="end">320</text>
<text transform="translate(219.90,449.80) rotate(-90)" font-size="7.2" fill="#7fb2e2" stroke="#7fb2e2" stroke-width="0.12" text-anchor="end">494</text>
<text transform="translate(255.30,449.80) rotate(-90)" font-size="7.2" fill="#cf6d68" stroke="#cf6d68" stroke-width="0.12" text-anchor="end">583</text>
<text transform="translate(293.40,449.80) rotate(-90)" font-size="7.2" fill="#cf6d68" stroke="#cf6d68" stroke-width="0.12" text-anchor="end">688</text>
<line x1="261.00" y1="423.00" x2="261.00" y2="406.00" stroke="#808080" stroke-width="1.0"/>
<circle cx="261.00" cy="405.90" r="1.75" fill="#f0bc1a"/>
<text transform="translate(261.90,401.80) rotate(-90)" font-size="7.15" fill="#333" stroke="#333" stroke-width="0.12" textLength="21.90" lengthAdjust="spacingAndGlyphs">S614RI</text>
<line x1="269.90" y1="423.00" x2="269.90" y2="406.00" stroke="#808080" stroke-width="1.0"/>
<circle cx="269.90" cy="405.90" r="1.75" fill="#e0861a"/>
<text transform="translate(270.20,401.80) rotate(-90)" font-size="7.15" fill="#333" stroke="#333" stroke-width="0.12" textLength="18.80" lengthAdjust="spacingAndGlyphs">Y640F</text>
<line x1="275.30" y1="423.00" x2="275.30" y2="406.00" stroke="#808080" stroke-width="1.0"/>
<circle cx="275.30" cy="405.90" r="1.75" fill="#e0861a"/>
<text transform="translate(276.00,401.80) rotate(-90)" font-size="7.15" fill="#333" stroke="#333" stroke-width="0.12" textLength="18.90" lengthAdjust="spacingAndGlyphs">N647I</text>
<line x1="284.20" y1="423.00" x2="284.20" y2="406.00" stroke="#808080" stroke-width="1.0"/>
<circle cx="284.20" cy="405.90" r="1.75" fill="#f0bc1a"/>
<text transform="translate(291.10,401.80) rotate(-90)" font-size="7.15" fill="#333" stroke="#333" stroke-width="0.12" textLength="21.50" lengthAdjust="spacingAndGlyphs">V667W</text>
<line x1="281.10" y1="423.00" x2="281.10" y2="394.00" stroke="#808080" stroke-width="1.0"/>
<circle cx="281.00" cy="393.80" r="4.75" fill="#e0861a"/>
<text x="281.00" y="396.50" font-size="7.6" fill="#111" text-anchor="middle" stroke="#111" stroke-width="0.22">5</text>
<text transform="translate(283.30,386.40) rotate(-90)" font-size="7.15" fill="#333" stroke="#333" stroke-width="0.12">D661Y / D661V</text>
<line x1="282.10" y1="446.00" x2="282.10" y2="460.50" stroke="#555" stroke-width="1.6"/>
<path d="M279.60 460.02L284.60 460.02L282.10 463.77Z" fill="#f0b000"/>
<text transform="translate(279.50,466.20) rotate(-90)" font-size="7.0" fill="#333" stroke="#333" stroke-width="0.12" text-anchor="end" textLength="49.20" lengthAdjust="spacingAndGlyphs">G656_Y657insF</text>
<text transform="translate(286.90,466.60) rotate(-90)" font-size="7.0" fill="#333" stroke="#333" stroke-width="0.12" text-anchor="end" textLength="48.00" lengthAdjust="spacingAndGlyphs">Y657_M660dup</text>
<path d="M348.10 397.88L353.10 397.88L350.60 394.12Z" fill="#b0001e"/>
<text x="356.30" y="397.85" font-size="7.38" fill="#333" stroke="#333" stroke-width="0.12" textLength="54.60" lengthAdjust="spacingAndGlyphs">Frame_shift Indel</text>
<path d="M348.10 408.86L353.10 408.86L350.60 405.11Z" fill="#f0b000"/>
<text x="356.30" y="408.83" font-size="7.38" fill="#333" stroke="#333" stroke-width="0.12" textLength="70.90" lengthAdjust="spacingAndGlyphs">Non Frame_shift indel</text>
<rect x="348.50" y="416.26" width="4.30" height="3.40" fill="#b0001e"/>
<text x="356.30" y="419.81" font-size="7.38" fill="#333" stroke="#333" stroke-width="0.12" textLength="31.70" lengthAdjust="spacingAndGlyphs">Nonsense</text>
<circle cx="350.60" cy="428.94" r="2.10" fill="#e0861a"/>
<text x="356.30" y="430.79" font-size="7.38" fill="#333" stroke="#333" stroke-width="0.12" textLength="71.60" lengthAdjust="spacingAndGlyphs">Missense / pathogenic</text>
<circle cx="350.60" cy="439.92" r="2.10" fill="#f0bc1a"/>
<text x="356.30" y="441.77" font-size="7.38" fill="#333" stroke="#333" stroke-width="0.12" textLength="89.40" lengthAdjust="spacingAndGlyphs">Missense / likely pathogenic</text>
<circle cx="350.60" cy="450.90" r="2.10" fill="#b4c48c"/>
<text x="356.30" y="452.75" font-size="7.38" fill="#333" stroke="#333" stroke-width="0.12" textLength="77.60" lengthAdjust="spacingAndGlyphs">Missense / likeky benign</text>
<circle cx="350.60" cy="461.88" r="2.10" fill="#66ad48"/>
<text x="356.30" y="463.73" font-size="7.38" fill="#333" stroke="#333" stroke-width="0.12" textLength="58.40" lengthAdjust="spacingAndGlyphs">Missence / benign</text>
<text x="17.60" y="530.00" font-size="7.0" fill="#231f20" font-weight="bold" textLength="16.20" lengthAdjust="spacingAndGlyphs">TET2</text>
<text x="36.30" y="530.00" font-size="7.0" fill="#231f20" stroke="#231f20" stroke-width="0.12" textLength="47.70" lengthAdjust="spacingAndGlyphs">NM_01127208</text>
<rect x="26.30" y="607.80" width="462.30" height="24.50" fill="#fff"/>
<rect x="286.90" y="607.80" width="42.40" height="24.50" fill="#6ea9df"/>
<rect x="329.30" y="607.80" width="37.50" height="24.50" fill="#dc8a1c"/>
<rect x="366.80" y="607.80" width="82.80" height="24.50" fill="#c9c8cc"/>
<rect x="449.60" y="607.80" width="19.90" height="24.50" fill="#dc8a1c"/>
<rect x="26.30" y="607.80" width="462.30" height="24.50" fill="none" stroke="#333" stroke-width="1.25"/>
<text x="18.00" y="622.00" font-size="7.2" fill="#333" stroke="#333" stroke-width="0.12">N</text>
<text x="492.40" y="626.40" font-size="7.4" fill="#333" stroke="#333" stroke-width="0.12">C</text>
<text x="307.50" y="619.80" font-size="7.67" fill="#333" stroke="#333" stroke-width="0.12" text-anchor="middle" textLength="25.40" lengthAdjust="spacingAndGlyphs">Cys-rich</text>
<text x="307.50" y="628.00" font-size="7.67" fill="#333" stroke="#333" stroke-width="0.12" text-anchor="middle" textLength="17.36" lengthAdjust="spacingAndGlyphs">insert</text>
<text x="345.20" y="621.90" font-size="7.88" fill="#333" stroke="#333" stroke-width="0.12" text-anchor="middle" textLength="20.30" lengthAdjust="spacingAndGlyphs">DSBH</text>
<text x="407.50" y="622.30" font-size="7.88" fill="#333" stroke="#333" stroke-width="0.12" text-anchor="middle" textLength="70.70" lengthAdjust="spacingAndGlyphs">Low-complexity insert</text>
<text transform="translate(462.70,630.40) rotate(-90)" font-size="7.88" fill="#333" stroke="#333" stroke-width="0.12" textLength="19.10" lengthAdjust="spacingAndGlyphs">DSBH</text>
<text transform="translate(290.00,635.80) rotate(-90)" font-size="7.2" fill="#7fb2e2" stroke="#7fb2e2" stroke-width="0.12" text-anchor="end">1130</text>
<text transform="translate(332.40,635.80) rotate(-90)" font-size="7.2" fill="#7fb2e2" stroke="#7fb2e2" stroke-width="0.12" text-anchor="end">1317</text>
<text transform="translate(369.90,635.80) rotate(-90)" font-size="7.2" fill="#e39a3a" stroke="#e39a3a" stroke-width="0.12" text-anchor="end">1464</text>
<text transform="translate(452.70,635.80) rotate(-90)" font-size="7.2" fill="#e39a3a" stroke="#e39a3a" stroke-width="0.12" text-anchor="end">1844</text>
<text transform="translate(472.60,635.80) rotate(-90)" font-size="7.2" fill="#e39a3a" stroke="#e39a3a" stroke-width="0.12" text-anchor="end">1924</text>
<line x1="43.75" y1="607.80" x2="43.75" y2="590.60" stroke="#808080" stroke-width="1.0"/>
<line x1="74.50" y1="607.80" x2="74.50" y2="590.60" stroke="#808080" stroke-width="1.0"/>
<line x1="81.25" y1="607.80" x2="81.25" y2="590.60" stroke="#808080" stroke-width="1.0"/>
<line x1="88.30" y1="607.80" x2="88.30" y2="590.60" stroke="#808080" stroke-width="1.0"/>
<line x1="146.50" y1="607.80" x2="146.50" y2="590.60" stroke="#808080" stroke-width="1.0"/>
<line x1="152.30" y1="607.80" x2="152.30" y2="590.60" stroke="#808080" stroke-width="1.0"/>
<line x1="156.50" y1="607.80" x2="156.50" y2="590.60" stroke="#808080" stroke-width="1.0"/>
<line x1="189.20" y1="607.80" x2="189.20" y2="590.60" stroke="#808080" stroke-width="1.0"/>
<line x1="204.20" y1="607.80" x2="204.20" y2="590.60" stroke="#808080" stroke-width="1.0"/>
<line x1="213.30" y1="607.80" x2="213.30" y2="590.60" stroke="#808080" stroke-width="1.0"/>
<line x1="222.50" y1="607.80" x2="222.50" y2="590.60" stroke="#808080" stroke-width="1.0"/>
<line x1="242.70" y1="607.80" x2="242.70" y2="590.60" stroke="#808080" stroke-width="1.0"/>
<line x1="293.80" y1="607.80" x2="293.80" y2="590.60" stroke="#808080" stroke-width="1.0"/>
<line x1="318.80" y1="607.80" x2="318.80" y2="590.60" stroke="#808080" stroke-width="1.0"/>
<line x1="323.50" y1="607.80" x2="323.50" y2="590.60" stroke="#808080" stroke-width="1.0"/>
<line x1="325.20" y1="607.80" x2="325.20" y2="590.60" stroke="#808080" stroke-width="1.0"/>
<line x1="331.00" y1="607.80" x2="331.00" y2="590.60" stroke="#808080" stroke-width="1.0"/>
<line x1="339.00" y1="607.80" x2="339.00" y2="590.60" stroke="#808080" stroke-width="1.0"/>
<line x1="343.60" y1="607.80" x2="343.60" y2="590.60" stroke="#808080" stroke-width="1.0"/>
<line x1="345.40" y1="607.80" x2="345.40" y2="590.60" stroke="#808080" stroke-width="1.0"/>
<line x1="347.10" y1="607.80" x2="347.10" y2="590.60" stroke="#808080" stroke-width="1.0"/>
<line x1="348.80" y1="607.80" x2="348.80" y2="590.60" stroke="#808080" stroke-width="1.0"/>
<line x1="390.80" y1="607.80" x2="390.80" y2="590.60" stroke="#808080" stroke-width="1.0"/>
<line x1="405.40" y1="607.80" x2="405.40" y2="590.60" stroke="#808080" stroke-width="1.0"/>
<line x1="428.30" y1="607.80" x2="428.30" y2="590.60" stroke="#808080" stroke-width="1.0"/>
<line x1="441.80" y1="607.80" x2="441.80" y2="590.60" stroke="#808080" stroke-width="1.0"/>
<line x1="445.90" y1="607.80" x2="445.90" y2="590.60" stroke="#808080" stroke-width="1.0"/>
<line x1="452.80" y1="607.80" x2="452.80" y2="590.60" stroke="#808080" stroke-width="1.0"/>
<line x1="458.40" y1="607.80" x2="458.40" y2="590.60" stroke="#808080" stroke-width="1.0"/>
<line x1="460.90" y1="607.80" x2="460.90" y2="590.60" stroke="#808080" stroke-width="1.0"/>
<line x1="465.80" y1="607.80" x2="465.80" y2="590.60" stroke="#808080" stroke-width="1.0"/>
<rect x="41.55" y="588.90" width="4.40" height="3.40" fill="#b0001e"/>
<text transform="translate(46.35,584.80) rotate(-90)" font-size="7.0" fill="#333" stroke="#333" stroke-width="0.12">Q80*</text>
<path d="M72.00 592.77L77.00 592.77L74.50 589.02Z" fill="#b0001e"/>
<text transform="translate(77.60,584.80) rotate(-90)" font-size="7.0" fill="#333" stroke="#333" stroke-width="0.12">S214Lfs*36</text>
<rect x="79.05" y="588.90" width="4.40" height="3.40" fill="#b0001e"/>
<text transform="translate(83.90,584.80) rotate(-90)" font-size="7.0" fill="#333" stroke="#333" stroke-width="0.12">Q243*</text>
<rect x="86.10" y="588.90" width="4.40" height="3.40" fill="#b0001e"/>
<text transform="translate(90.90,584.80) rotate(-90)" font-size="7.0" fill="#333" stroke="#333" stroke-width="0.12">S271*</text>
<rect x="144.30" y="588.90" width="4.40" height="3.40" fill="#b0001e"/>
<text transform="translate(147.70,584.80) rotate(-90)" font-size="7.0" fill="#333" stroke="#333" stroke-width="0.12">Q526*</text>
<rect x="150.10" y="588.90" width="4.40" height="3.40" fill="#b0001e"/>
<text transform="translate(154.90,584.80) rotate(-90)" font-size="7.0" fill="#333" stroke="#333" stroke-width="0.12">R550*</text>
<path d="M154.00 592.77L159.00 592.77L156.50 589.02Z" fill="#b0001e"/>
<text transform="translate(163.60,584.80) rotate(-90)" font-size="7.0" fill="#333" stroke="#333" stroke-width="0.12">E556Dfs*2</text>
<rect x="187.00" y="588.90" width="4.40" height="3.40" fill="#b0001e"/>
<text transform="translate(191.90,584.80) rotate(-90)" font-size="7.0" fill="#333" stroke="#333" stroke-width="0.12">E709*</text>
<rect x="202.00" y="588.90" width="4.40" height="3.40" fill="#b0001e"/>
<text transform="translate(206.80,584.80) rotate(-90)" font-size="7.0" fill="#333" stroke="#333" stroke-width="0.12">G773*</text>
<path d="M210.80 592.77L215.80 592.77L213.30 589.02Z" fill="#b0001e"/>
<text transform="translate(216.00,584.80) rotate(-90)" font-size="7.0" fill="#333" stroke="#333" stroke-width="0.12">I812Kfs*3</text>
<path d="M220.00 592.77L225.00 592.77L222.50 589.02Z" fill="#b0001e"/>
<text transform="translate(225.60,584.80) rotate(-90)" font-size="7.0" fill="#333" stroke="#333" stroke-width="0.12">A855Qfs*18</text>
<rect x="240.50" y="588.90" width="4.40" height="3.40" fill="#b0001e"/>
<text transform="translate(245.30,584.80) rotate(-90)" font-size="7.0" fill="#333" stroke="#333" stroke-width="0.12">Q939*</text>
<circle cx="293.80" cy="590.40" r="1.75" fill="#f0bc1a"/>
<text transform="translate(295.90,584.80) rotate(-90)" font-size="7.0" fill="#333" stroke="#333" stroke-width="0.12">R1161S</text>
<circle cx="318.80" cy="590.40" r="1.75" fill="#f0bc1a"/>
<text transform="translate(317.10,584.80) rotate(-90)" font-size="7.0" fill="#333" stroke="#333" stroke-width="0.12">C1271W</text>
<circle cx="323.50" cy="590.40" r="1.75" fill="#f0bc1a"/>
<text transform="translate(322.20,584.80) rotate(-90)" font-size="7.0" fill="#333" stroke="#333" stroke-width="0.12">F1287S</text>
<circle cx="325.20" cy="590.40" r="1.75" fill="#f0bc1a"/>
<text transform="translate(327.40,584.80) rotate(-90)" font-size="7.0" fill="#333" stroke="#333" stroke-width="0.12">C1298Y</text>
<circle cx="331.00" cy="590.40" r="1.75" fill="#f0bc1a"/>
<text transform="translate(332.60,584.80) rotate(-90)" font-size="7.0" fill="#333" stroke="#333" stroke-width="0.12">L1322Q</text>
<circle cx="339.00" cy="590.40" r="1.75" fill="#f0bc1a"/>
<text transform="translate(337.80,584.80) rotate(-90)" font-size="7.0" fill="#333" stroke="#333" stroke-width="0.12">L1340Q</text>
<circle cx="343.60" cy="590.40" r="1.75" fill="#f0bc1a"/>
<text transform="translate(343.00,584.80) rotate(-90)" font-size="7.0" fill="#333" stroke="#333" stroke-width="0.12">R1366Y</text>
<circle cx="345.40" cy="590.40" r="1.75" fill="#f0bc1a"/>
<text transform="translate(348.20,584.80) rotate(-90)" font-size="7.0" fill="#333" stroke="#333" stroke-width="0.12">C1378Y</text>
<circle cx="347.10" cy="590.40" r="1.75" fill="#f0bc1a"/>
<text transform="translate(353.30,584.80) rotate(-90)" font-size="7.0" fill="#333" stroke="#333" stroke-width="0.12">H1380Y</text>
<circle cx="348.80" cy="590.40" r="1.75" fill="#f0bc1a"/>
<text transform="translate(358.50,584.80) rotate(-90)" font-size="7.0" fill="#333" stroke="#333" stroke-width="0.12">N1387S</text>
<path d="M388.30 592.77L393.30 592.77L390.80 589.02Z" fill="#b0001e"/>
<text transform="translate(393.50,584.80) rotate(-90)" font-size="7.0" fill="#333" stroke="#333" stroke-width="0.12">N1581Qfs*4</text>
<path d="M402.90 592.77L407.90 592.77L405.40 589.02Z" fill="#b0001e"/>
<text transform="translate(407.90,584.80) rotate(-90)" font-size="7.0" fill="#333" stroke="#333" stroke-width="0.12">C1642Sfs*53</text>
<path d="M425.80 592.77L430.80 592.77L428.30 589.02Z" fill="#b0001e"/>
<text transform="translate(431.40,584.80) rotate(-90)" font-size="7.0" fill="#333" stroke="#333" stroke-width="0.12">N1743Qfs*10</text>
<path d="M439.30 592.77L444.30 592.77L441.80 589.02Z" fill="#b0001e"/>
<text transform="translate(443.30,584.80) rotate(-90)" font-size="7.0" fill="#333" stroke="#333" stroke-width="0.12">P1802Qfs*18</text>
<rect x="443.70" y="588.90" width="4.40" height="3.40" fill="#b0001e"/>
<text transform="translate(448.40,584.80) rotate(-90)" font-size="7.0" fill="#333" stroke="#333" stroke-width="0.12">L1819*</text>
<path d="M450.30 592.77L455.30 592.77L452.80 589.02Z" fill="#b0001e"/>
<text transform="translate(455.80,584.80) rotate(-90)" font-size="7.0" fill="#333" stroke="#333" stroke-width="0.12">D1849Efs*38</text>
<circle cx="458.40" cy="590.40" r="1.75" fill="#f0bc1a"/>
<text transform="translate(461.60,584.80) rotate(-90)" font-size="7.0" fill="#333" stroke="#333" stroke-width="0.12">E1874K</text>
<circle cx="460.90" cy="590.40" r="1.75" fill="#f0bc1a"/>
<text transform="translate(466.90,584.80) rotate(-90)" font-size="7.0" fill="#333" stroke="#333" stroke-width="0.12">H1881Q</text>
<circle cx="465.80" cy="590.40" r="1.75" fill="#f0bc1a"/>
<text transform="translate(472.60,584.80) rotate(-90)" font-size="7.0" fill="#333" stroke="#333" stroke-width="0.12">H1904R</text>
<line x1="28.50" y1="632.30" x2="28.50" y2="649.10" stroke="#808080" stroke-width="1.0"/>
<line x1="32.50" y1="632.30" x2="32.50" y2="649.50" stroke="#808080" stroke-width="1.0"/>
<line x1="34.90" y1="632.30" x2="34.90" y2="657.60" stroke="#808080" stroke-width="1.0"/>
<line x1="59.10" y1="632.30" x2="59.10" y2="647.50" stroke="#808080" stroke-width="1.0"/>
<line x1="67.20" y1="632.30" x2="67.20" y2="647.50" stroke="#808080" stroke-width="1.0"/>
<line x1="76.60" y1="632.30" x2="76.60" y2="666.30" stroke="#808080" stroke-width="1.0"/>
<line x1="109.80" y1="632.30" x2="109.80" y2="667.10" stroke="#808080" stroke-width="1.0"/>
<line x1="113.80" y1="632.30" x2="113.80" y2="655.40" stroke="#808080" stroke-width="1.0"/>
<line x1="214.50" y1="632.30" x2="214.50" y2="649.30" stroke="#808080" stroke-width="1.0"/>
<line x1="225.00" y1="632.30" x2="225.00" y2="656.70" stroke="#808080" stroke-width="1.0"/>
<line x1="276.80" y1="632.30" x2="276.80" y2="651.80" stroke="#808080" stroke-width="1.0"/>
<line x1="419.20" y1="632.30" x2="419.20" y2="648.30" stroke="#808080" stroke-width="1.0"/>
<line x1="424.00" y1="632.30" x2="424.00" y2="648.30" stroke="#808080" stroke-width="1.0"/>
<line x1="425.50" y1="632.30" x2="425.50" y2="655.50" stroke="#808080" stroke-width="1.0"/>
<line x1="424.20" y1="632.30" x2="424.20" y2="679.50" stroke="#808080" stroke-width="1.0"/>
<line x1="437.00" y1="632.30" x2="437.00" y2="671.30" stroke="#808080" stroke-width="1.0"/>
<line x1="433.70" y1="632.30" x2="433.70" y2="704.00" stroke="#808080" stroke-width="1.0"/>
<line x1="479.80" y1="632.30" x2="479.80" y2="649.20" stroke="#808080" stroke-width="1.0"/>
<circle cx="28.50" cy="649.10" r="1.50" fill="#b4c48c"/>
<circle cx="32.50" cy="649.50" r="1.50" fill="#66ad48"/>
<circle cx="35.20" cy="657.60" r="4.00" fill="#66ad48"/>
<text x="35.20" y="660.34" font-size="7.6" fill="#111" text-anchor="middle" stroke="#111" stroke-width="0.22">7</text>
<circle cx="59.10" cy="647.50" r="1.50" fill="#b4c48c"/>
<circle cx="67.20" cy="647.50" r="1.50" fill="#b4c48c"/>
<circle cx="76.20" cy="666.30" r="4.70" fill="#66ad48"/>
<text x="76.20" y="669.04" font-size="7.6" fill="#111" text-anchor="middle" stroke="#111" stroke-width="0.22">9</text>
<circle cx="109.80" cy="667.10" r="4.80" fill="#66ad48"/>
<text x="109.80" y="669.84" font-size="7.6" fill="#111" text-anchor="middle" stroke="#111" stroke-width="0.22">9</text>
<circle cx="114.20" cy="655.40" r="4.00" fill="#66ad48"/>
<text x="114.20" y="658.14" font-size="7.6" fill="#111" text-anchor="middle" stroke="#111" stroke-width="0.22">6</text>
<circle cx="214.50" cy="649.30" r="1.50" fill="#b4c48c"/>
<circle cx="225.50" cy="656.70" r="4.20" fill="#b4c48c"/>
<text x="225.50" y="659.44" font-size="7.6" fill="#111" text-anchor="middle" stroke="#111" stroke-width="0.22">6</text>
<circle cx="276.80" cy="651.80" r="2.70" fill="#b4c48c"/>
<text x="276.80" y="653.53" font-size="4.8" fill="#111" text-anchor="middle" stroke="#111" stroke-width="0.22">2</text>
<circle cx="418.30" cy="648.30" r="1.50" fill="#b4c48c"/>
<circle cx="423.10" cy="648.30" r="1.50" fill="#b4c48c"/>
<circle cx="426.00" cy="655.50" r="3.40" fill="#b4c48c"/>
<text x="426.00" y="657.73" font-size="6.2" fill="#111" text-anchor="middle" stroke="#111" stroke-width="0.22">6</text>
<circle cx="424.20" cy="679.50" r="7.50" fill="#66ad48"/>
<text x="424.20" y="682.38" font-size="8.0" fill="#111" text-anchor="middle" textLength="7.20" lengthAdjust="spacingAndGlyphs" stroke="#111" stroke-width="0.22">17</text>
<circle cx="436.80" cy="671.30" r="6.50" fill="#66ad48"/>
<text x="436.80" y="674.18" font-size="8.0" fill="#111" text-anchor="middle" textLength="7.20" lengthAdjust="spacingAndGlyphs" stroke="#111" stroke-width="0.22">15</text>
<circle cx="433.40" cy="704.00" r="9.60" fill="#66ad48"/>
<text x="433.40" y="706.88" font-size="8.0" fill="#111" text-anchor="middle" textLength="7.20" lengthAdjust="spacingAndGlyphs" stroke="#111" stroke-width="0.22">41</text>
<circle cx="479.80" cy="649.20" r="1.50" fill="#b4c48c"/>
<text transform="translate(26.60,637.40) rotate(-90)" font-size="7.05" fill="#333" stroke="#333" stroke-width="0.12" text-anchor="end">H8D</text>
<text transform="translate(31.40,653.60) rotate(-90)" font-size="7.05" fill="#333" stroke="#333" stroke-width="0.12" text-anchor="end">P29R</text>
<text transform="translate(37.80,665.30) rotate(-90)" font-size="7.05" fill="#333" stroke="#333" stroke-width="0.12" text-anchor="end">L34F</text>
<text transform="translate(61.30,651.50) rotate(-90)" font-size="7.05" fill="#333" stroke="#333" stroke-width="0.12" text-anchor="end">S145N</text>
<text transform="translate(69.20,650.00) rotate(-90)" font-size="7.05" fill="#333" stroke="#333" stroke-width="0.12" text-anchor="end">P174H</text>
<text transform="translate(78.20,673.00) rotate(-90)" font-size="7.05" fill="#333" stroke="#333" stroke-width="0.12" text-anchor="end">V218M</text>
<text transform="translate(112.30,674.00) rotate(-90)" font-size="7.05" fill="#333" stroke="#333" stroke-width="0.12" text-anchor="end">G355D</text>
<text transform="translate(121.10,658.00) rotate(-90)" font-size="7.05" fill="#333" stroke="#333" stroke-width="0.12" text-anchor="end">P363L</text>
<text transform="translate(217.20,654.00) rotate(-90)" font-size="7.05" fill="#333" stroke="#333" stroke-width="0.12" text-anchor="end">Q810R</text>
<text transform="translate(227.90,661.00) rotate(-90)" font-size="7.05" fill="#333" stroke="#333" stroke-width="0.12" text-anchor="end">Y867H</text>
<text transform="translate(279.60,660.00) rotate(-90)" font-size="7.05" fill="#333" stroke="#333" stroke-width="0.12" text-anchor="end">Q1084P</text>
<text transform="translate(411.50,649.20) rotate(-90)" font-size="7.05" fill="#333" stroke="#333" stroke-width="0.12" text-anchor="end">M1701V</text>
<text transform="translate(416.00,652.00) rotate(-90)" font-size="7.05" fill="#333" stroke="#333" stroke-width="0.12" text-anchor="end">V1718L</text>
<text transform="translate(420.60,651.00) rotate(-90)" font-size="7.05" fill="#333" stroke="#333" stroke-width="0.12" text-anchor="end">L1723W</text>
<text transform="translate(423.50,690.60) rotate(-90)" font-size="7.05" fill="#333" stroke="#333" stroke-width="0.12" text-anchor="end">L1721W</text>
<text transform="translate(443.70,677.70) rotate(-90)" font-size="7.05" fill="#333" stroke="#333" stroke-width="0.12" text-anchor="end">H1778R</text>
<text transform="translate(435.80,717.00) rotate(-90)" font-size="7.05" fill="#333" stroke="#333" stroke-width="0.12" text-anchor="end">I1762V</text>
<text transform="translate(481.90,653.90) rotate(-90)" font-size="7.05" fill="#333" stroke="#333" stroke-width="0.12" text-anchor="end">P1962L</text>
<rect x="0.00" y="0.00" width="520.00" height="1.00" fill="#000"/>
<rect x="0.00" y="0.00" width="1.10" height="747.00" fill="#000"/>
<rect x="518.70" y="0.00" width="1.30" height="747.00" fill="#000"/>
<rect x="0.00" y="745.70" width="520.00" height="1.30" fill="#000"/>
</svg></body></html>
